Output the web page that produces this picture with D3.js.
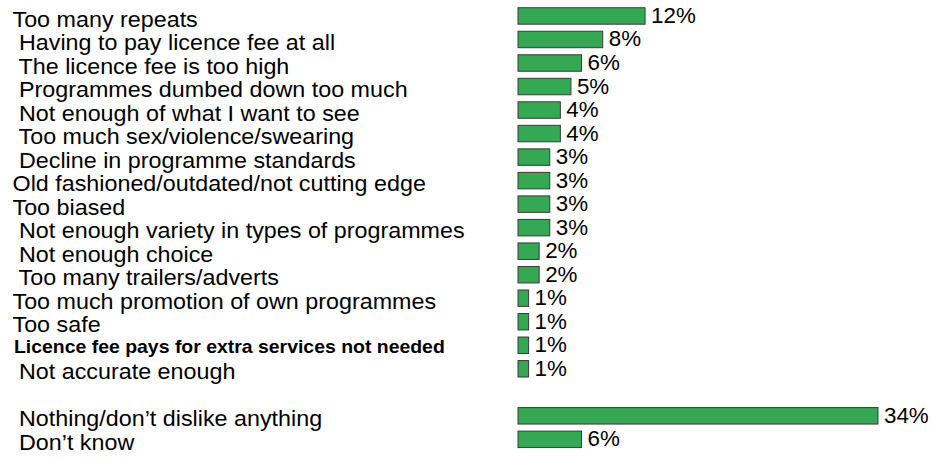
<!DOCTYPE html>
<html>
<head>
<meta charset="utf-8">
<script src="https://cdn.jsdelivr.net/npm/d3@7"></script>
<style>
  html, body { margin: 0; padding: 0; background: #ffffff; }
  svg { display: block; }
  text { font-family: "Liberation Sans", Arial, sans-serif; fill: #000; white-space: pre; }
</style>
</head>
<body>
<svg id="chart" width="933" height="459"></svg>
<script>
// Dislikes about the BBC, % of respondents
const categories = [
  "Too many repeats",
  " Having to pay licence fee at all",
  " The licence fee is too high",
  " Programmes dumbed down too much",
  " Not enough of what I want to see",
  " Too much sex/violence/swearing",
  " Decline in programme standards",
  "Old fashioned/outdated/not cutting edge",
  "Too biased",
  " Not enough variety in types of programmes",
  " Not enough choice",
  " Too many trailers/adverts",
  "Too much promotion of own programmes",
  "Too safe",
  "Licence fee pays for extra services not needed",
  " Not accurate enough"
];
const values = [12, 8, 6, 5, 4, 4, 3, 3, 3, 3, 2, 2, 1, 1, 1, 1];

const summaryCategories = [" Nothing/don\u2019t dislike anything", " Don\u2019t know"];
const summaryValues = [34, 6];

// The one label set in a smaller bold face
const boldLabels = ["Licence fee pays for extra services not needed"];

const rows = categories.map((c, i) => ({ key: "m" + i, label: c, value: values[i] }))
  .concat([{ key: "gap", label: null, value: null }])
  .concat(summaryCategories.map((c, i) => ({ key: "s" + i, label: c, value: summaryValues[i] })));

const svg = d3.select("#chart");

const x = d3.scaleLinear().domain([0, 34]).range([518, 878]);
const y = d3.scaleBand()
  .domain(rows.map(d => d.key))
  .range([4.2, 451.1])
  .paddingInner(0.3)
  .paddingOuter(0.15);

const data = rows.filter(d => d.value !== null);
const isBold = d => boldLabels.includes(d.label);
const mid = d => y(d.key) + y.bandwidth() / 2;

// Bars
svg.append("g")
  .selectAll("rect")
  .data(data)
  .join("rect")
  .attr("x", x(0))
  .attr("y", d => y(d.key))
  .attr("width", d => x(d.value) - x(0))
  .attr("height", y.bandwidth())
  .attr("fill", "#34a853")
  .attr("stroke", "#3a3a3a")
  .attr("stroke-width", 1);

// Value labels (slightly wide face)
svg.append("g")
  .selectAll("text")
  .data(data)
  .join("text")
  .attr("transform", d => `translate(${x(d.value) + 6},${mid(d) + 7}) scale(1.04,1)`)
  .attr("font-size", 21.5)
  .text(d => d.value + "%");

// Category labels (slightly wide face)
svg.append("g")
  .selectAll("text")
  .data(data)
  .join("text")
  .attr("transform", d => isBold(d)
    ? `translate(14,${mid(d) + 7.7}) scale(1.08,1)`
    : `translate(12.5,${mid(d) + 10.6}) scale(1.06,1)`)
  .attr("font-size", d => isBold(d) ? 18 : 22)
  .attr("font-weight", d => isBold(d) ? "bold" : "normal")
  .text(d => d.label);
</script>
</body>
</html>
